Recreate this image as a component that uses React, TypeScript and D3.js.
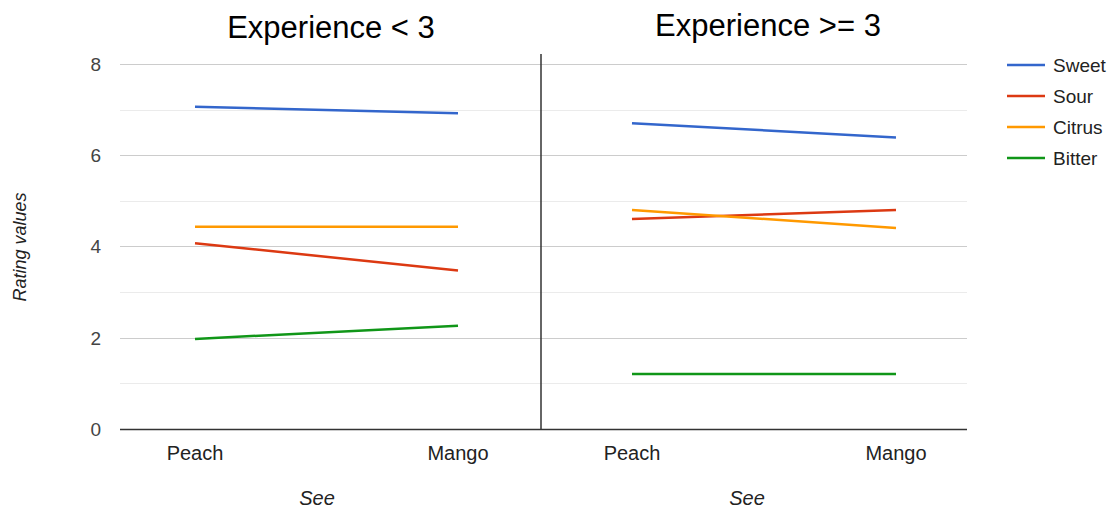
import React from "react";
import * as d3 from "d3";

// Rating data: two experience groups, each tasted Peach and Mango
const categories = ["Peach", "Mango"];
const panels = ["Experience < 3", "Experience >= 3"];
const seriesNames = ["Sweet", "Sour", "Citrus", "Bitter"];
const seriesColors = ["#3366CC", "#DC3912", "#FF9900", "#109618"];

// values per series: [Peach, Mango]
const lowExperience = [
  [7.06, 6.92],
  [4.07, 3.47],
  [4.43, 4.43],
  [1.97, 2.26],
];
const highExperience = [
  [6.7, 6.39],
  [4.6, 4.8],
  [4.8, 4.4],
  [1.2, 1.2],
];
const yTicks = [0, 1, 2, 3, 4, 5, 6, 7, 8];

const W = 1112;
const H = 510;
const plotLeft = 120;
const plotRight = 967;
const divider = 541;
const font = "'Liberation Sans', Arial, sans-serif";

export default function App() {
  const y = d3.scaleLinear().domain([0, 8]).range([428.7, 64]);
  const xLeft = d3.scalePoint<string>().domain(categories).range([195, 458]);
  const xRight = d3.scalePoint<string>().domain(categories).range([632, 896]);
  const line = (x: d3.ScalePoint<string>) =>
    d3
      .line<number>()
      .x((_, i) => x(categories[i]) as number)
      .y((v) => y(v));

  const panelDefs = [
    { title: panels[0], data: lowExperience, x: xLeft, titleX: 331, titleY: 38, seeX: 317 },
    { title: panels[1], data: highExperience, x: xRight, titleX: 768, titleY: 36, seeX: 747 },
  ];

  return (
    <svg
      width={W}
      height={H}
      style={{ position: "absolute", left: 0, top: 0, background: "#fff" }}
      fontFamily={font}
    >
      {/* gridlines */}
      {yTicks.map((t) => (
        <line
          key={t}
          x1={plotLeft}
          x2={plotRight}
          y1={Math.round(y(t)) + 0.5}
          y2={Math.round(y(t)) + 0.5}
          stroke={t === 0 ? "#333" : t % 2 === 0 ? "#cccccc" : "#ebebeb"}
          strokeWidth={t === 0 ? 1.5 : 1}
        />
      ))}
      {/* y tick labels */}
      {yTicks
        .filter((t) => t % 2 === 0)
        .map((t) => (
          <text
            key={t}
            x={101}
            y={y(t) + 7}
            textAnchor="end"
            fontSize={19}
            fill="#444"
          >
            {t}
          </text>
        ))}
      <text
        transform={`translate(26,247) rotate(-90)`}
        textAnchor="middle"
        fontSize={18}
        fontStyle="italic"
        fill="#222"
      >
        Rating values
      </text>

      {/* divider between panels */}
      <line x1={divider} x2={divider} y1={54} y2={429} stroke="#333" strokeWidth={1.5} />

      {panelDefs.map((p, pi) => (
        <g key={pi}>
          <text x={p.titleX} y={p.titleY} textAnchor="middle" fontSize={31} fill="#000">
            {p.title}
          </text>
          {p.data.map((vals, si) => (
            <path
              key={si}
              d={line(p.x)(vals) as string}
              fill="none"
              stroke={seriesColors[si]}
              strokeWidth={2.5}
            />
          ))}
          {categories.map((c) => (
            <text
              key={c}
              x={p.x(c) as number}
              y={460}
              textAnchor="middle"
              fontSize={20}
              fill="#222"
            >
              {c}
            </text>
          ))}
          <text
            x={p.seeX}
            y={505}
            textAnchor="middle"
            fontSize={20}
            fontStyle="italic"
            fill="#222"
          >
            See
          </text>
        </g>
      ))}

      {/* legend */}
      {seriesNames.map((name, i) => {
        const ly = 65 + i * 31;
        return (
          <g key={name}>
            <line x1={1007} x2={1045} y1={ly} y2={ly} stroke={seriesColors[i]} strokeWidth={2.5} />
            <text x={1053} y={ly + 7} fontSize={19} fill="#222">
              {name}
            </text>
          </g>
        );
      })}
    </svg>
  );
}
